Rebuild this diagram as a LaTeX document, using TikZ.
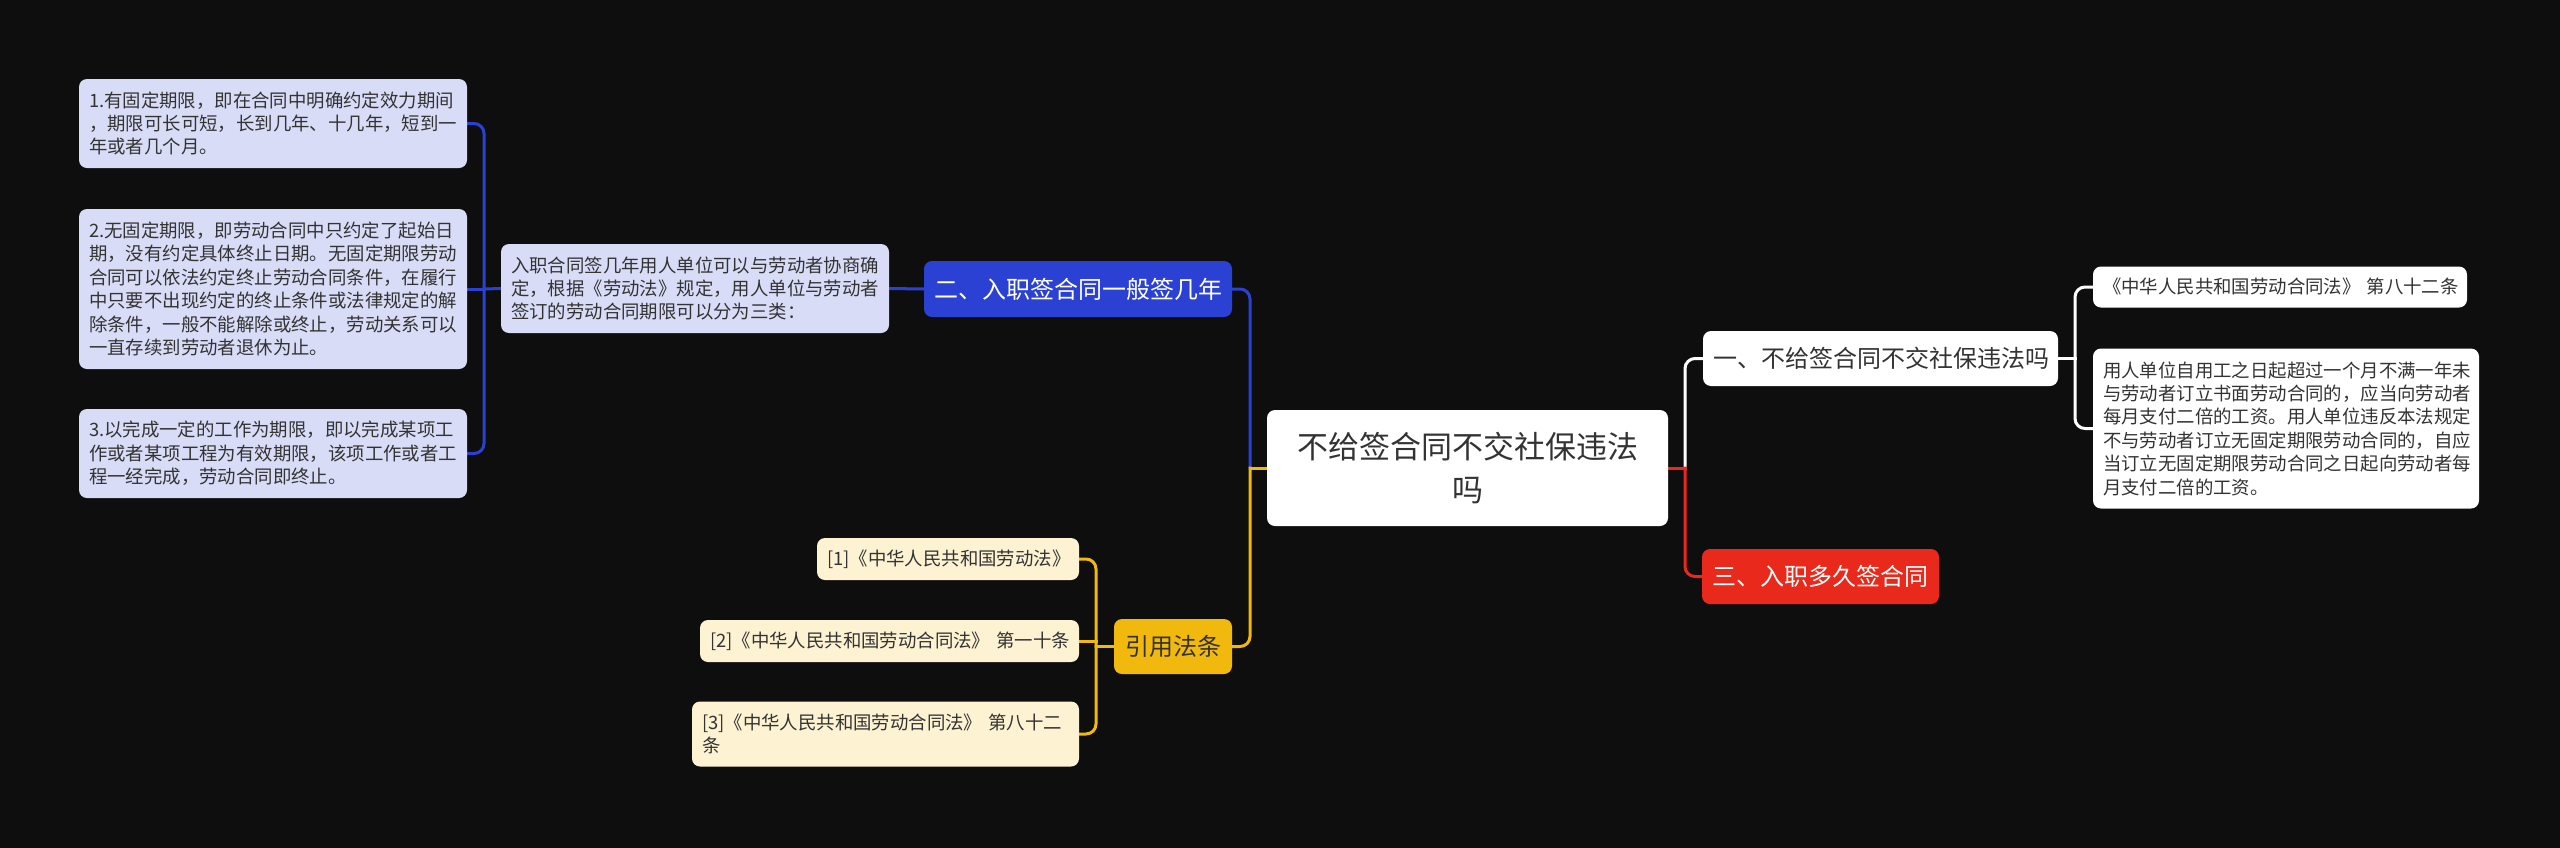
\documentclass[tikz,border=0pt]{standalone}
\usepackage{fontspec}
\setmainfont{Noto Sans CJK SC}
\usetikzlibrary{backgrounds}
\definecolor{bg}{HTML}{0E0E0E}
\definecolor{cblue}{HTML}{2A41D3}
\definecolor{clav}{HTML}{D9DCF7}
\definecolor{cred}{HTML}{E8291C}
\definecolor{cyel}{HTML}{F1B90D}
\definecolor{ccream}{HTML}{FDF2D1}
\definecolor{ctext}{HTML}{333333}
\newcommand\fsm{\fontsize{18.4}{23.4}\selectfont}
\newcommand\fmd{\fontsize{24}{30}\selectfont}
\newcommand\fbg{\fontsize{31}{43}\selectfont}
\tikzset{
  box/.style={rectangle, rounded corners=8pt, inner xsep=10pt, inner ysep=0pt, text=ctext},
  lavbox/.style={box, fill=clav, align=left, font=\fsm},
  whitebox/.style={box, fill=white, align=left, font=\fsm},
  creambox/.style={box, fill=ccream, align=left, font=\fsm},
  conn/.style={line width=3pt, line cap=rect, rounded corners=10pt},
}
\begin{document}
\begin{tikzpicture}[x=1pt,y=-1pt]
\useasboundingbox (0,0) rectangle (2560,847);
% root
\node[box, fill=white, text width=381pt, minimum height=116pt, align=center, font=\fbg] (root) at (1467.5,468) {不给签合同不交社保违法\\吗};
% right side
\node[box, fill=white, text width=335pt, minimum height=55pt, align=center, font=\fmd] (b1) at (1880.5,358.5) {一、不给签合同不交社保违法吗};
\node[box, fill=cred, text=white, text width=217pt, minimum height=55pt, align=center, font=\fmd] (b3) at (1820.5,576.5) {三、入职多久签合同};
\node[whitebox, text width=354pt, minimum height=41pt] (r1) at (2280,287) {\mbox{《中华人民共和国劳动合同法》~第八十二条}};
\node[whitebox, text width=366pt, minimum height=160pt] (r2) at (2286,428.5) {用人单位自用工之日起超过一个月不满一年未\\与劳动者订立书面劳动合同的，应当向劳动者\\每月支付二倍的工资。用人单位违反本法规定\\不与劳动者订立无固定期限劳动合同的，自应\\当订立无固定期限劳动合同之日起向劳动者每\\月支付二倍的工资。};
% left side
\node[box, fill=cblue, text=white, text width=288pt, minimum height=56pt, align=center, font=\fmd] (b2) at (1078,289) {二、入职签合同一般签几年};
\node[lavbox, text width=368pt, minimum height=89pt] (desc) at (695,288.5) {入职合同签几年用人单位可以与劳动者协商确\\定，根据《劳动法》规定，用人单位与劳动者\\签订的劳动合同期限可以分为三类：};
\node[lavbox, text width=368pt, minimum height=89pt] (l1) at (273,123.5) {1.有固定期限，即在合同中明确约定效力期间\\，期限可长可短，长到几年、十几年，短到一\\年或者几个月。};
\node[lavbox, text width=368pt, minimum height=160pt] (l2) at (273,289) {2.无固定期限，即劳动合同中只约定了起始日\\期，没有约定具体终止日期。无固定期限劳动\\合同可以依法约定终止劳动合同条件，在履行\\中只要不出现约定的终止条件或法律规定的解\\除条件，一般不能解除或终止，劳动关系可以\\一直存续到劳动者退休为止。};
\node[lavbox, text width=368pt, minimum height=89pt] (l3) at (273,453.5) {3.以完成一定的工作为期限，即以完成某项工\\作或者某项工程为有效期限，该项工作或者工\\程一经完成，劳动合同即终止。};
% citations
\node[box, fill=cyel, text width=98pt, minimum height=55pt, align=center, font=\fmd] (yl) at (1173,646.5) {引用法条};
\node[creambox, text width=242pt, minimum height=42pt] (c1) at (948,559) {[1]《中华人民共和国劳动法》};
\node[creambox, text width=359pt, minimum height=42pt] (c2) at (889.5,641) {\mbox{[2]《中华人民共和国劳动合同法》~第一十条}};
\node[creambox, text width=367pt, minimum height=65pt] (c3) at (885.5,734) {[3]《中华人民共和国劳动合同法》 第八十二\\条};
% junctions
\coordinate (jL) at (1250,468);
\coordinate (jR) at (1685,468);
\coordinate (j1) at (2075,358.5);
\coordinate (jD) at (484,289);
\coordinate (jY) at (1096,646.5);
\begin{pgfonlayer}{background}
\fill[bg] (-2,-2) rectangle (2562,849);
% left main
\draw[conn, cblue] (b2.east) -| (jL);
\draw[conn, cyel] (yl.east) -| (jL);
\draw[conn, cyel] (jL) -- (root.west);
% right main
\draw[conn, white] (b1.west) -| (jR);
\draw[conn, cred] (b3.west) -| (jR);
\draw[conn, cred] (jR) -- (root.east);
% b1 children
\draw[conn, white] (b1.east) -- (j1);
\draw[conn, white] (j1) |- (r1.west);
\draw[conn, white] (j1) |- (r2.west);
% b2 children
\draw[conn, cblue] (b2.west) -- (desc.east);
\draw[conn, cblue] (desc.west) -- (jD);
\draw[conn, cblue] (jD) |- (l1.east);
\draw[conn, cblue] (jD) -- (l2.east);
\draw[conn, cblue] (jD) |- (l3.east);
% citations
\draw[conn, cyel] (yl.west) -- (jY);
\draw[conn, cyel] (jY) |- (c1.east);
\draw[conn, cyel] (c2.east) -- (c2.east -| jY);
\draw[conn, cyel] (jY) |- (c3.east);
\end{pgfonlayer}
\end{tikzpicture}
\end{document}
